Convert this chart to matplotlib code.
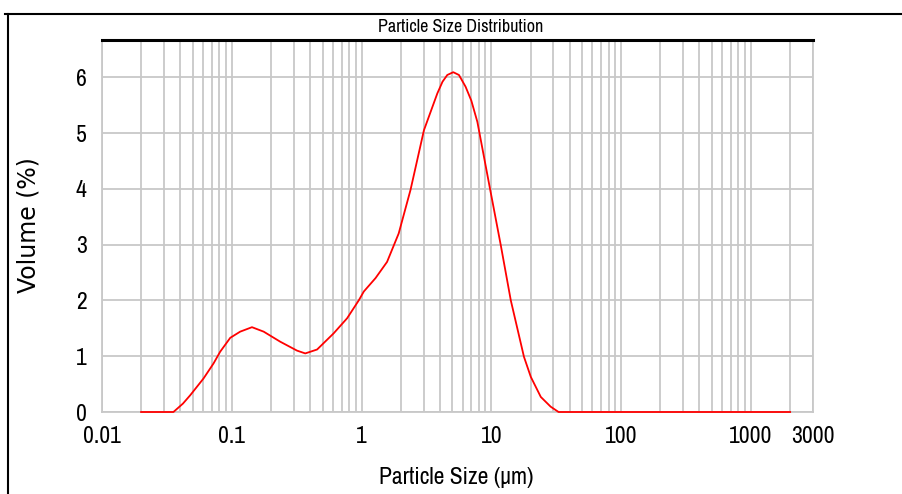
import numpy as np
import matplotlib
matplotlib.use("Agg")
import matplotlib.pyplot as plt
from matplotlib.lines import Line2D

# particle size (um) and volume (%)
size_um = [0.02, 0.0355, 0.042, 0.0478, 0.0605, 0.0723, 0.0813, 0.0973,
           0.116, 0.143, 0.176, 0.236, 0.318, 0.368, 0.454, 0.609, 0.773,
           0.95, 1.04, 1.28, 1.57, 1.93, 2.38, 3.02, 3.83, 4.2, 4.57, 5.08,
           5.62, 6.32, 7.0, 7.79, 9.57, 11.8, 14.1, 17.8, 20.1, 24.0, 28.6,
           32.9, 2000]
volume = [0, 0, 0.15, 0.30, 0.60, 0.87, 1.08, 1.33,
          1.44, 1.52, 1.44, 1.26, 1.10, 1.05, 1.12, 1.41, 1.68,
          2.00, 2.16, 2.40, 2.69, 3.20, 3.98, 5.05, 5.71, 5.92, 6.04, 6.09,
          6.04, 5.83, 5.58, 5.20, 4.10, 2.99, 2.00, 0.99, 0.63, 0.27, 0.095,
          0, 0]

x_ticks = [0.01, 0.1, 1, 10, 100, 1000, 3000]
x_labels = ['0.01', '0.1', '1', '10', '100', '1000', '3000']
y_ticks = [0, 1, 2, 3, 4, 5, 6]

narrow = ['Liberation Sans Narrow', 'Archivo Narrow', 'DejaVu Sans']
grid_col = '#c8c8c8'

fig = plt.figure(figsize=(9.02, 4.94), dpi=100)
ax = fig.add_axes([102/902, 1 - 412/494, 711/902, 372/494])

ax.plot(size_um, volume, color='#ff0000', lw=1.3, zorder=3, clip_on=False)

ax.set_xscale('log')
ax.set_xlim(0.01, 3000)
ax.set_ylim(0, 6.667)

ax.set_xticks(x_ticks)
ax.set_xticklabels(x_labels)
minor = [k * 10.0**e for e in range(-2, 3) for k in range(2, 10)] + [2000]
ax.set_xticks(minor, minor=True)
ax.xaxis.set_minor_formatter(plt.NullFormatter())
ax.set_yticks(y_ticks)

ax.tick_params(which='both', length=0)
ax.tick_params(axis='x', pad=10)
ax.tick_params(axis='y', pad=11)
for lab in ax.get_xticklabels() + ax.get_yticklabels():
    lab.set_family(narrow)
    lab.set_fontsize(17)

ax.grid(which='both', axis='x', color=grid_col, lw=1.3)
ax.grid(which='major', axis='y', color=grid_col, lw=1.3)
ax.set_axisbelow(True)

for side in ['left', 'right', 'bottom']:
    ax.spines[side].set_color(grid_col)
    ax.spines[side].set_linewidth(1.3)
ax.spines['top'].set_color('black')
ax.spines['top'].set_linewidth(2.2)

ax.set_xlabel('Particle Size (μm)', family=narrow, fontsize=17)
ax.xaxis.set_label_coords(0.498, -0.177)
ax.xaxis.label.set_va('center')
ax.set_ylabel('Volume (%)', family='DejaVu Sans', fontsize=17)
ax.yaxis.set_label_coords(-0.103, 0.503)
ax.yaxis.label.set_va('center')

fig.text(461/902, 1 - 27/494, 'Particle Size Distribution',
         family=narrow, fontsize=13, ha='center', va='center')

# outer frame (left and top edges)
fig.add_artist(Line2D([5/902, 1], [1 - 14/494, 1 - 14/494],
                      transform=fig.transFigure, color='black', lw=1.5))
fig.add_artist(Line2D([8/902, 8/902], [0, 1 - 14/494],
                      transform=fig.transFigure, color='black', lw=1.5))

fig.savefig('out.png', dpi=100)
